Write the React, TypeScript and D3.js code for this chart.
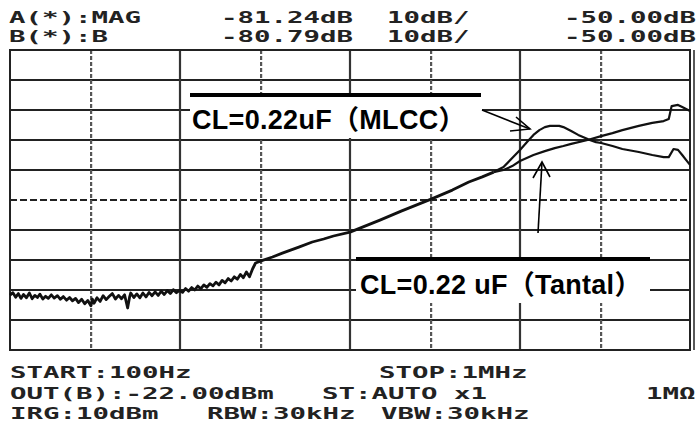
import React from "react";
import * as d3 from "d3";

// ---- data (frequency in Hz, level in dB) ----
const sharedFreq = [100, 104, 108, 112, 116, 120, 125, 130, 135, 140, 145, 150, 156, 162, 168, 175, 182, 190, 198, 206, 215, 224, 233, 243, 253, 264, 275, 287, 299, 305, 312, 325, 339, 353, 368, 384, 400, 417, 435, 453, 472, 492, 505, 513, 535, 557, 581, 605, 631, 657, 685, 714, 744, 775, 808, 842, 877, 914, 953, 993, 1035, 1078, 1124, 1171, 1220, 1272, 1325, 1381, 1439, 1500, 1563, 1629, 1697, 1769, 1843, 1921, 2001, 2086, 2173, 2265, 2360, 2459, 2563, 2671, 2783, 3000, 3500, 4000, 5000, 6000, 7000, 8000, 10000, 15000, 20000, 30000, 40000, 50000, 60000, 70000];
const sharedDb = [-131.7, -130.9, -132.4, -131.2, -132.8, -131.5, -132.6, -131.0, -132.9, -131.8, -132.5, -131.4, -133.0, -132.1, -132.8, -131.6, -132.7, -131.9, -133.1, -132.2, -133.4, -132.5, -133.6, -132.8, -134.2, -133.1, -134.6, -133.5, -135.3, -133.0, -134.4, -132.6, -133.8, -131.9, -133.2, -132.1, -131.2, -133.0, -131.8, -132.9, -131.6, -136.0, -132.4, -131.0, -132.5, -131.3, -132.6, -131.0, -132.3, -130.8, -131.9, -130.6, -131.8, -130.4, -131.5, -130.2, -131.2, -129.9, -130.9, -130.1, -130.8, -129.5, -130.4, -129.2, -130.0, -128.7, -129.6, -128.3, -129.1, -127.9, -128.6, -127.4, -128.3, -126.8, -127.6, -126.2, -127.0, -125.6, -126.4, -124.8, -125.9, -124.0, -125.6, -123.0, -121.0, -120.3, -119.0, -117.7, -115.7, -114.0, -113.0, -112.0, -110.7, -106.7, -103.7, -99.7, -96.7, -94.0, -92.3, -90.7];

const mlccFreq = [80000, 90000, 100000, 110000, 120000, 130000, 140000, 150000, 170000, 180000, 200000, 220000, 250000, 280000, 300000, 350000, 400000, 500000, 600000, 700000, 750000, 800000, 850000, 900000, 950000, 1000000];
const mlccDb = [-89.0, -86.0, -83.3, -80.7, -78.3, -76.7, -75.7, -75.3, -75.3, -75.7, -77.0, -78.3, -79.7, -80.7, -81.0, -82.0, -83.0, -84.0, -85.0, -85.7, -85.7, -83.0, -83.3, -85.0, -86.7, -88.3];

const tantalFreq = [80000, 90000, 100000, 120000, 140000, 160000, 180000, 200000, 250000, 300000, 350000, 400000, 500000, 600000, 700000, 750000, 780000, 850000, 900000, 1000000];
const tantalDb = [-90.0, -88.7, -87.0, -85.0, -83.7, -82.7, -82.0, -81.3, -80.0, -78.7, -77.7, -76.7, -75.3, -74.3, -73.7, -73.0, -68.7, -68.3, -69.0, -70.3];

const decadeTicks = [100, 1000, 10000, 100000, 1000000];
const thirdTicks = [300, 3000, 30000, 300000];
const levelTicks = [-60, -70, -80, -90, -100, -110, -120, -130, -140];

const headerRows = [
  ["A(*):MAG", "-81.24dB", "10dB/", "-50.00dB"],
  ["B(*):B", "-80.79dB", "10dB/", "-50.00dB"],
];
const footerRows = [
  ["START:100Hz", "STOP:1MHz"],
  ["OUT(B):-22.00dBm", "ST:AUTO x1", "1MΩ"],
  ["IRG:10dBm", "RBW:30kHz", "VBW:30kHz"],
];
const labelMlcc = "CL=0.22uF（MLCC）";
const labelTantal = "CL=0.22 uF（Tantal）";

const W = 699;
const H = 425;
const L = 10, R = 690, T = 50, B = 350;

export default function App() {
  const x = d3.scaleLog().domain([100, 1000000]).range([L, R]);
  const y = d3.scaleLinear().domain([-50, -150]).range([T, B]);

  const line = d3
    .line<[number, number]>()
    .x((d) => x(d[0]))
    .y((d) => y(d[1]));

  const shared: [number, number][] = sharedFreq.map((f, i) => [f, sharedDb[i]]);
  const last = shared[shared.length - 1];
  const mlcc: [number, number][] = [last, ...mlccFreq.map((f, i) => [f, mlccDb[i]] as [number, number])];
  const tantal: [number, number][] = [last, ...tantalFreq.map((f, i) => [f, tantalDb[i]] as [number, number])];

  const fs = 15;
  const pitch = 16.5;
  const sx = pitch / (0.602 * fs);
  const T_ = (s: string, xx: number, yy: number, key: string) => (
    <text key={key} transform={`translate(${xx},${yy}) scale(${sx},1)`}
      fontFamily="'DejaVu Sans Mono', monospace" fontWeight={700} fontSize={fs} fill="#222">
      {s}
    </text>
  );

  const headerX = [9, 221, 387, 564];
  const headerY = [23, 42];
  const footerX = [[10, 379], [10, 322, 646], [10, 207, 381]];
  const footerY = [378, 399, 419];

  const lab = { fontFamily: "'Liberation Sans', Arial, 'Noto Sans CJK SC', sans-serif", fontWeight: 700, fontSize: 27, fill: "#000" };

  return (
    <svg width={W} height={H} style={{ position: "absolute", left: 0, top: 0, background: "#fff" }}>
      <rect x={0} y={0} width={W} height={H} fill="#fff" />
      {/* horizontal grid */}
      {levelTicks.map((v) => (
        <line key={"h" + v} x1={L} x2={R} y1={y(v)} y2={y(v)} stroke="#222" strokeWidth={2}
          strokeDasharray={v === -100 ? "7,3" : undefined} />
      ))}
      {/* vertical grid */}
      {decadeTicks.slice(1, -1).map((f) => (
        <line key={"v" + f} x1={x(f)} x2={x(f)} y1={T} y2={B} stroke="#333" strokeWidth={2.2} />
      ))}
      {thirdTicks.map((f) => (
        <line key={"t" + f} x1={x(f)} x2={x(f)} y1={T} y2={B} stroke="#555" strokeWidth={2.2} strokeDasharray="4,2" />
      ))}
      {/* frame */}
      <rect x={L} y={T} width={R - L} height={B - T} fill="none" stroke="#222" strokeWidth={2} />
      <line x1={R + 4} x2={R + 4} y1={T} y2={B} stroke="#222" strokeWidth={1.5} />

      {/* traces */}
      <path d={line(shared) || ""} fill="none" stroke="#111" strokeWidth={2.8} strokeLinejoin="round" />
      <path d={line(mlcc) || ""} fill="none" stroke="#111" strokeWidth={2.2} strokeLinejoin="round" />
      <path d={line(tantal) || ""} fill="none" stroke="#111" strokeWidth={2.2} strokeLinejoin="round" />

      {/* MLCC annotation */}
      <rect x={190} y={97} width={292} height={41} fill="#fff" />
      <line x1={190} x2={481} y1={95} y2={95} stroke="#000" strokeWidth={4} />
      <text x={192} y={129} letterSpacing={0.3} {...lab}>{labelMlcc}</text>
      <g stroke="#000" strokeWidth={1.6} fill="none">
        <line x1={482} y1={110} x2={530} y2={129} />
        <polyline points="516,117 530,129 510,131" />
      </g>

      {/* Tantal annotation */}
      <rect x={356} y={261} width={294} height={42} fill="#fff" />
      <line x1={356} x2={650} y1={259} y2={259} stroke="#000" strokeWidth={4} />
      <text x={360} y={294} letterSpacing={0.3} {...lab}>{labelTantal}</text>
      <g stroke="#000" strokeWidth={1.6} fill="none">
        <line x1={538} y1={233} x2={542} y2={162} />
        <polyline points="533,178 542,162 550,177" />
      </g>

      {/* header / footer */}
      {headerRows.map((row, r) => row.map((s, c) => T_(s, headerX[c], headerY[r], `h${r}${c}`)))}
      {footerRows.map((row, r) => row.map((s, c) => T_(s, footerX[r][c], footerY[r], `f${r}${c}`)))}
    </svg>
  );
}
